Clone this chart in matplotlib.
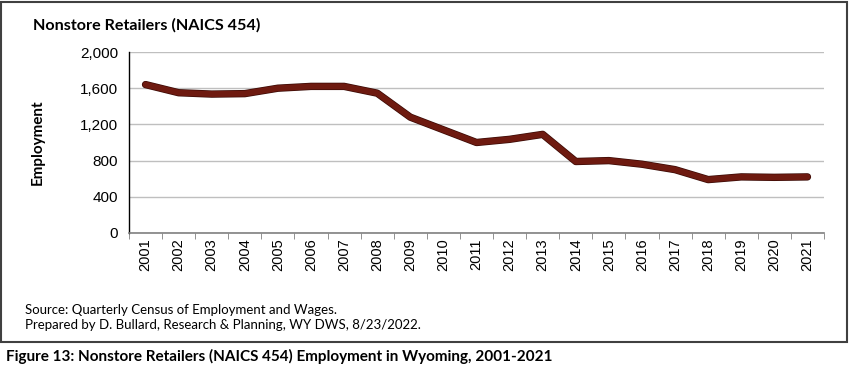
import matplotlib
matplotlib.use("Agg")
import matplotlib.pyplot as plt
import matplotlib.patheffects as pe
from matplotlib.patches import Rectangle

years = [str(y) for y in range(2001, 2022)]
employment = [1640, 1550, 1535, 1540, 1600, 1620, 1620, 1545, 1280, 1140,
              1000, 1035, 1090, 790, 800, 760, 700, 590, 620, 615, 620]
y_ticks = [0, 400, 800, 1200, 1600, 2000]

fig = plt.figure(figsize=(8.5, 3.69), dpi=100)
ax = fig.add_axes([129 / 850, 1 - 233 / 369, 695 / 850, 181 / 369])

x = range(len(years))
ax.plot(x, employment, color="#6e1a10", lw=4.3, solid_joinstyle="round",
        solid_capstyle="round",
        path_effects=[pe.Stroke(linewidth=5.3, foreground="#3a0a05"), pe.Normal()])

ax.set_xlim(-0.5, len(years) - 0.5)
ax.set_ylim(0, 2000)
ax.set_yticks(y_ticks)
ax.set_yticklabels([f"{v:,}" for v in y_ticks], fontsize=11, family="Liberation Sans")
ax.set_xticks(list(x))
ax.set_xticklabels(years, rotation=90, fontsize=10.5, family="Liberation Sans")
ax.set_xticks([i - 0.5 for i in range(len(years) + 1)], minor=True)
ax.tick_params(axis="x", which="major", length=0, pad=4)
ax.tick_params(axis="x", which="minor", length=4, color="#808080", direction="out")
ax.tick_params(axis="y", length=0, pad=8)
ax.grid(axis="y", color="#bfbfbf", lw=1)
ax.set_axisbelow(True)
for s in ["top", "right"]:
    ax.spines[s].set_visible(False)
ax.spines["left"].set_color("#000000")
ax.spines["bottom"].set_color("#808080")
ax.spines["left"].set_linewidth(1)
ax.spines["bottom"].set_linewidth(1.2)

ax.set_ylabel("Employment", fontsize=11, fontweight="bold", family="Lato", labelpad=25.5)

fig.text(33 / 850, 1 - 25 / 369, "Nonstore Retailers (NAICS 454)", fontsize=11.6,
         fontweight="bold", family="Lato", va="center", ha="left")
fig.text(25 / 850, 1 - 310 / 369, "Source: Quarterly Census of Employment and Wages.",
         fontsize=9.5, family="Lato", va="center", ha="left")
fig.text(25 / 850, 1 - 325 / 369,
         "Prepared by D. Bullard, Research & Planning, WY DWS, 8/23/2022.",
         fontsize=9.5, family="Lato", va="center", ha="left")
fig.text(6 / 850, 1 - 356 / 369,
         "Figure 13: Nonstore Retailers (NAICS 454) Employment in Wyoming, 2001-2021",
         fontsize=11, fontweight="bold", family="Lato", va="center", ha="left")

fig.patches.append(Rectangle((1 / 850, 1 - 342 / 369), 846 / 850, 340 / 369,
                             transform=fig.transFigure, fill=False,
                             edgecolor="#404040", lw=1.5))

fig.savefig("out.png", dpi=100)
